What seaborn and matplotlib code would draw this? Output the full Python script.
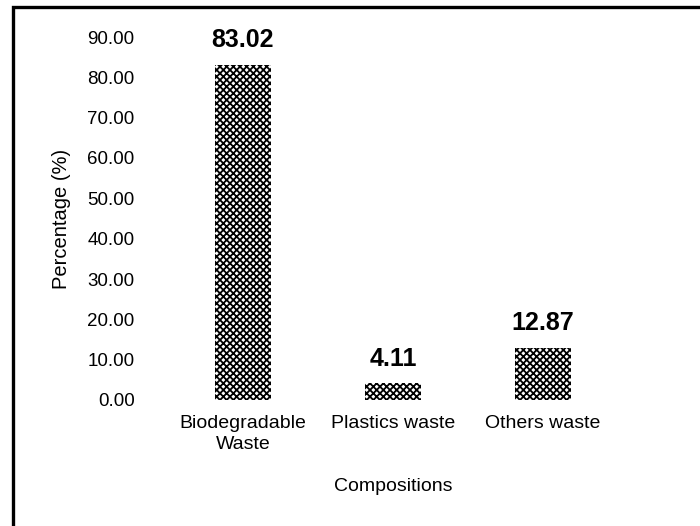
import matplotlib
matplotlib.use("Agg")
import matplotlib.pyplot as plt
import seaborn as sns
import pandas as pd
from matplotlib.patches import Rectangle

categories = ["Biodegradable\nWaste", "Plastics waste", "Others waste"]
percentages = [83.02, 4.11, 12.87]
y_ticks = [0, 10, 20, 30, 40, 50, 60, 70, 80, 90]

sns.set_theme(style="white")
plt.rcParams["font.family"] = ["Liberation Sans", "DejaVu Sans"]
plt.rcParams["hatch.linewidth"] = 1.3
plt.rcParams["text.color"] = "black"
plt.rcParams["axes.labelcolor"] = "black"
plt.rcParams["xtick.color"] = "black"
plt.rcParams["ytick.color"] = "black"

df = pd.DataFrame({"Compositions": categories, "Percentage": percentages})

fig = plt.figure(figsize=(7.0, 5.26), dpi=100)
ax = fig.add_axes([168 / 700, 1 - 400 / 526, 450 / 700, 363 / 526])

sns.barplot(data=df, x="Compositions", y="Percentage", ax=ax,
            color="white", width=0.37, saturation=1)
for bar in ax.patches:
    bar.set_hatch("xxxxx")
    bar.set_edgecolor("black")
    bar.set_linewidth(0)

for bar, v in zip(ax.patches, percentages):
    ax.text(bar.get_x() + bar.get_width() / 2, v + 3.2, f"{v:.2f}",
            ha="center", va="bottom", fontsize=18, fontweight="bold")

ax.set_ylim(0, 90)
ax.set_xlim(-0.5, 2.5)
ax.set_yticks(y_ticks)
ax.set_yticklabels([f"{t:.2f}" for t in y_ticks])
ax.tick_params(axis="y", length=0, pad=24, labelsize=13.5)
ax.tick_params(axis="x", length=0, pad=11, labelsize=14)
for lab in ax.get_xticklabels():
    lab.set_linespacing(1.3)
for s in ax.spines.values():
    s.set_visible(False)
ax.set_xlabel("Compositions", fontsize=14, labelpad=18)
ax.set_ylabel("Percentage (%)", fontsize=14.5, labelpad=12)

fig.patches.append(Rectangle((12.5 / 700, -0.05), 1.2, 1 - 7.5 / 526 + 0.05,
                             transform=fig.transFigure, fill=False,
                             edgecolor="black", linewidth=2.4))

fig.savefig("out.png", dpi=100)
